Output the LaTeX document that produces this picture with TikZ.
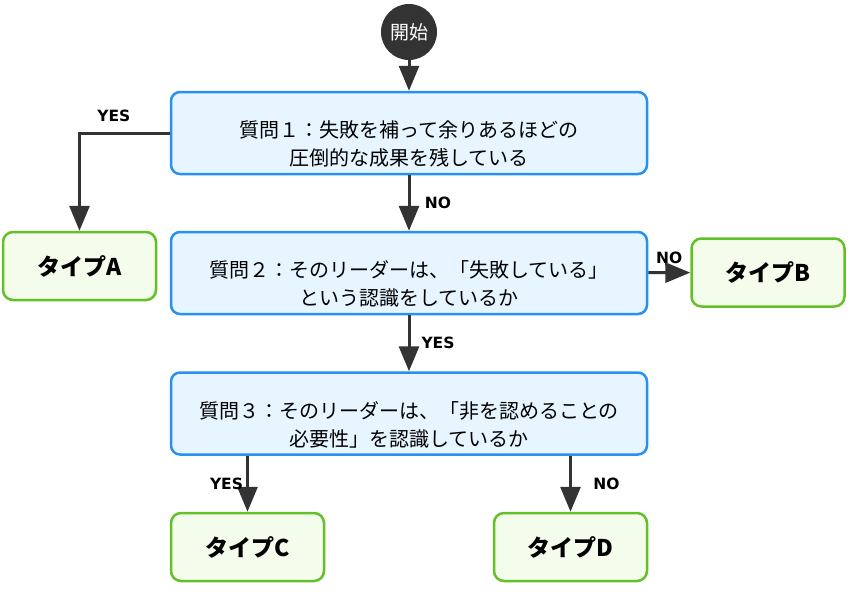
\documentclass[tikz,border=0pt]{standalone}
\usepackage{fontspec}
\setmainfont{Noto Sans CJK JP}
\newfontfamily\lblfont{DejaVu Sans}
\usetikzlibrary{arrows.meta}
\definecolor{qfill}{RGB}{230,245,255}
\definecolor{qline}{RGB}{40,145,240}
\definecolor{tfill}{RGB}{244,252,236}
\definecolor{tline}{RGB}{100,192,40}
\definecolor{dark}{RGB}{51,51,51}
\begin{document}
\begin{tikzpicture}[x=1pt,y=-1pt,
    qbox/.style={draw=qline, fill=qfill, line width=2.5pt, rounded corners=9pt,
      minimum width=476pt, minimum height=82pt},
    qtext/.style={align=center, font=\fontsize{20}{28}\selectfont, inner sep=0pt},
    tbox/.style={draw=tline, fill=tfill, line width=2.5pt, rounded corners=10pt,
      minimum width=153pt, minimum height=68pt, font=\fontsize{23}{27}\selectfont\bfseries},
    flow/.style={draw=dark, line width=3pt, -{Triangle[length=25pt,width=20pt]}},
    lbl/.style={font=\lblfont\bfseries\fontsize{15.5}{18}\selectfont, inner sep=0pt}]
    \useasboundingbox (0,0) rectangle (856,606);

    % Start
    \node[circle, fill=dark, minimum size=56pt, inner sep=0pt, text=white,
      font=\fontsize{19}{22}\selectfont] (start) at (409,32) {開始};

    % Questions
    \node[qbox] (q1) at (409,133) {};
    \node[qtext] (q1t) at ([yshift=-11pt]q1.center) {質問１：失敗を補って余りあるほどの\\圧倒的な成果を残している};
    \node[qbox] (q2) at (409,273) {};
    \node[qtext] (q2t) at ([yshift=-11pt]q2.center) {質問２：そのリーダーは、「失敗している」\\という認識をしているか};
    \node[qbox] (q3) at (409,413.5) {};
    \node[qtext] (q3t) at ([yshift=-11pt]q3.center) {質問３：そのリーダーは、「非を認めることの\\必要性」を認識しているか};

    % Types
    \node[tbox] (ta) at (79.5,266) {タイプA};
    \node[tbox] (tb) at (768,272.5) {タイプB};
    \node[tbox] (tc) at (247.5,547) {タイプC};
    \node[tbox] (td) at (570.5,547) {タイプD};

    % Arrows
    \draw[flow] (start) -- (q1);
    \draw[flow] (q1.west) -| (ta.north) node[lbl, pos=0.31, yshift=17pt] {YES};
    \draw[flow] (q1) -- (q2) node[lbl, midway, xshift=29pt] {NO};
    \draw[flow] (q2) -- (tb) node[lbl, midway, yshift=15pt] {NO};
    \draw[flow] (q2) -- (q3) node[lbl, midway, xshift=29pt] {YES};
    \draw[flow] (tc.north |- q3.south) -- (tc.north) node[lbl, midway, xshift=-21pt] {YES};
    \draw[flow] (td.north |- q3.south) -- (td.north) node[lbl, midway, xshift=36pt] {NO};
\end{tikzpicture}
\end{document}
